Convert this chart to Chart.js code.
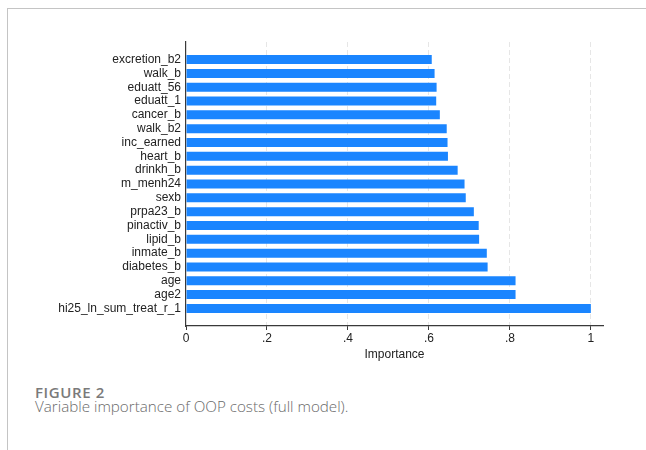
<!DOCTYPE html>
<html>
<head>
<meta charset="utf-8">
<script src="https://cdn.jsdelivr.net/npm/chart.js@4.4.1/dist/chart.umd.min.js"></script>
<style>
    body { margin: 0; background: #fff; width: 646px; height: 450px; overflow: hidden; position: relative; }
    .frame { position: absolute; left: 7px; top: 8px; width: 700px; height: 500px; border-top: 1px solid #c4c4c4; border-left: 1px solid #c4c4c4; }
    #chart { position: absolute; left: 0; top: 0; }
    .fig { position: absolute; left: 35px; top: 382px; font-family: "Open Sans", sans-serif; font-weight: 600; font-size: 15px; color: #7a7a7a; letter-spacing: 0.6px; }
    .cap { position: absolute; left: 35px; top: 396px; font-family: "Open Sans", sans-serif; font-weight: 300; font-size: 15.2px; color: #6a6a6a; }
</style>
</head>
<body>
<div class="frame"></div>
<canvas id="chart" width="646" height="370"></canvas>
<div class="fig">FIGURE 2</div>
<div class="cap">Variable importance of OOP costs (full model).</div>
<script>
const variables = ['excretion_b2', 'walk_b', 'eduatt_56', 'eduatt_1', 'cancer_b', 'walk_b2', 'inc_earned',
    'heart_b', 'drinkh_b', 'm_menh24', 'sexb', 'prpa23_b', 'pinactiv_b', 'lipid_b', 'inmate_b',
    'diabetes_b', 'age', 'age2', 'hi25_ln_sum_treat_r_1']
const importance = [0.607, 0.614, 0.619, 0.618, 0.627, 0.644, 0.646, 0.647, 0.671, 0.688, 0.691,
    0.711, 0.723, 0.724, 0.743, 0.745, 0.814, 0.814, 1.0]
const xTicks = [0, 0.2, 0.4, 0.6, 0.8, 1]

const tickText = (v) => {
    const r = Math.round(v * 10) / 10
    if (r === 0 || r === 1) return String(r)
    return String(r).replace('0.', '.')
}

const ctx = document.getElementById('chart').getContext('2d');
const chart = new Chart(ctx, {
    type: 'bar',
    data: {
        datasets: [{
            data: importance.map((v, i) => ({x: v, y: i})),
            backgroundColor: '#1a85ff',
            borderWidth: 0,
            barPercentage: 0.65,
            categoryPercentage: 1
        }]
    },
    options: {
        indexAxis: 'y',
        responsive: false,
        animation: false,
        layout: {padding: {top: 42, right: 43, left: 0, bottom: 8}},
        plugins: {
            legend: {display: false},
            tooltip: {enabled: false}
        },
        scales: {
            x: {
                type: 'linear',
                bounds: 'data',
                min: 0,
                max: 1.03,
                afterBuildTicks: (scale) => { scale.ticks = xTicks.map(v => ({value: v})) },
                afterFit: (scale) => { scale.height = 36 },
                border: {display: true, color: '#3a3a3a', width: 1.2, dash: [5, 3]},
                grid: {
                    drawOnChartArea: true,
                    drawTicks: true,
                    tickLength: 4,
                    tickColor: '#3a3a3a',
                    color: (c) => c.tick && c.tick.value === 0 ? 'rgba(0,0,0,0)' : '#e6e6e6',
                    tickBorderDash: [],
                },
                ticks: {
                    includeBounds: false,
                    autoSkip: false,
                    padding: 1,
                    color: '#222',
                    font: {family: 'Liberation Sans, Arial', size: 12},
                    callback: (v) => tickText(v)
                },
                title: {
                    display: true,
                    text: 'Importance',
                    color: '#222',
                    padding: {top: 3, bottom: 0},
                    font: {family: 'Liberation Sans, Arial', size: 12}
                }
            },
            y: {
                type: 'linear',
                bounds: 'data',
                offset: false,
                reverse: true,
                min: -1.27,
                max: 19.27,
                afterBuildTicks: (scale) => { scale.ticks = variables.map((l, i) => ({value: i})) },
                afterFit: (scale) => { scale.width = 186 },
                border: {display: true, color: '#3a3a3a', width: 1.2},
                grid: {display: false, drawTicks: false, offset: false},
                ticks: {
                    includeBounds: false,
                    autoSkip: false,
                    padding: 5,
                    color: '#222',
                    font: {family: 'Liberation Sans, Arial', size: 12},
                    callback: (v) => variables[v] || ''
                }
            }
        }
    }
});
</script>
</body>
</html>
